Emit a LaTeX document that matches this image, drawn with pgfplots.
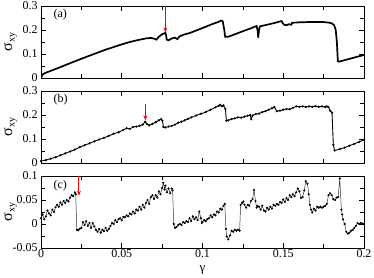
\documentclass[border=0pt]{standalone}
\usepackage{pgfplots}
\pgfplotsset{compat=1.18}
\usepackage{fontspec}
\setmainfont{Liberation Serif}
\usetikzlibrary{arrows.meta}

\pgfplotsset{
  panel/.style={
    scale only axis, width=323bp, height=72bp,
    xmin=0, xmax=0.2,
    xtick={0,0.05,0.1,0.15,0.2}, minor x tick num=1,
    tick align=inside,
    major tick length=5bp, minor tick length=4bp,
    minor y tick num=1,
    /pgf/number format/assume math mode=true,
    /pgf/number format/fixed, /pgf/number format/precision=2,
    tick label style={font=\fontsize{12}{12}\selectfont},
    xticklabel style={inner sep=1.5pt},
    every axis y label/.style={at={(axis description cs:-0.095,0.5)}, rotate=90, anchor=center},
    every axis x label/.style={at={(axis description cs:0.5,0)}, anchor=north, inner sep=0pt, yshift=-17bp},
    ylabel={\fontsize{16}{16}\selectfont σ\raisebox{-0.35ex}{\fontsize{10}{10}\selectfont xy}},
    axis line style={line width=0.8pt},
    every tick/.style={black, line width=0.6pt},
  },
}

\begin{document}
\begin{tikzpicture}
\begin{axis}[panel, at={(0,0)}, anchor=north west,
  ymin=0, ymax=0.3, ytick={0,0.1,0.2,0.3}, xticklabels={}]
\addplot[black, line width=1.7pt] coordinates {
(0,0.0) (0.001,0.015) (0.003,0.022) (0.01,0.04) (0.02,0.067) (0.03,0.093)
(0.04,0.118) (0.05,0.14) (0.055,0.15) (0.06,0.158) (0.065,0.165) (0.068,0.167)
(0.070,0.164) (0.0715,0.160) (0.073,0.172) (0.075,0.182) (0.077,0.188)
(0.0775,0.178) (0.0778,0.16) (0.079,0.157) (0.081,0.165) (0.083,0.168)
(0.0845,0.162) (0.0855,0.172) (0.088,0.18) (0.0923,0.188) (0.095,0.195)
(0.1,0.208) (0.105,0.222) (0.11,0.234) (0.1115,0.239) (0.1125,0.237)
(0.1135,0.2) (0.114,0.172) (0.116,0.172) (0.12,0.182) (0.125,0.195)
(0.13,0.207) (0.1335,0.217) (0.1342,0.195) (0.1345,0.168) (0.135,0.2)
(0.1355,0.215) (0.14,0.222) (0.145,0.23) (0.149,0.2375) (0.1495,0.23)
(0.1505,0.222) (0.152,0.22) (0.1535,0.224) (0.155,0.222) (0.1555,0.23)
(0.16,0.232) (0.165,0.233) (0.17,0.233) (0.175,0.233) (0.178,0.231)
(0.180,0.228) (0.1815,0.22) (0.1825,0.2) (0.1832,0.15) (0.1838,0.07)
(0.1845,0.068) (0.19,0.078) (0.195,0.087) (0.2,0.096)
};
\draw[red, line width=1pt, -{Stealth[length=5bp,width=4bp]}] (axis cs:0.077,0.3) -- (axis cs:0.077,0.19);
\node[anchor=west, font=\fontsize{12}{12}\selectfont] at (rel axis cs:0.028,0.88) {(a)};
\end{axis}

\begin{axis}[panel, at={(0,-85bp)}, anchor=north west,
  ymin=0, ymax=0.3, ytick={0,0.1,0.2,0.3}, xticklabels={}]
\addplot[black, line width=0.9pt, mark=*, mark size=0.6pt] coordinates {
(0,0.008) (0.003,0.012) (0.006,0.018) (0.009,0.024) (0.012,0.032) (0.015,0.040)
(0.018,0.048) (0.021,0.056) (0.024,0.066) (0.027,0.074) (0.030,0.082) (0.033,0.09)
(0.036,0.098) (0.039,0.105) (0.042,0.113) (0.045,0.122) (0.048,0.128) (0.051,0.138)
(0.053,0.145) (0.055,0.142) (0.057,0.15) (0.059,0.152) (0.061,0.155) (0.063,0.160)
(0.0645,0.172) (0.0655,0.163) (0.067,0.157) (0.069,0.163) (0.071,0.170) (0.073,0.178)
(0.0745,0.183) (0.0752,0.176) (0.0758,0.150) (0.077,0.148) (0.079,0.152) (0.081,0.155)
(0.083,0.16) (0.085,0.168) (0.087,0.172) (0.089,0.178) (0.091,0.184) (0.093,0.19)
(0.096,0.198) (0.099,0.205) (0.102,0.212) (0.105,0.222) (0.108,0.232) (0.110,0.238)
(0.111,0.242) (0.112,0.236) (0.113,0.24) (0.1142,0.225) (0.1148,0.176) (0.116,0.178)
(0.118,0.183) (0.12,0.186) (0.122,0.19) (0.124,0.189) (0.126,0.193) (0.128,0.197)
(0.1295,0.200) (0.1302,0.183) (0.131,0.198) (0.133,0.204) (0.135,0.206) (0.137,0.212)
(0.139,0.216) (0.141,0.222) (0.143,0.228) (0.1445,0.233) (0.146,0.216) (0.148,0.218)
(0.150,0.222) (0.152,0.225) (0.154,0.224) (0.156,0.230) (0.158,0.236) (0.160,0.234)
(0.162,0.236) (0.164,0.233) (0.166,0.236) (0.168,0.234) (0.170,0.237) (0.172,0.234)
(0.174,0.236) (0.176,0.233) (0.177,0.236) (0.178,0.233) (0.179,0.218) (0.1802,0.21)
(0.181,0.076) (0.1818,0.052) (0.185,0.058) (0.188,0.064) (0.191,0.072) (0.194,0.08)
(0.197,0.088) (0.2,0.097)
};
\draw[red, line width=1.2pt, -{Stealth[length=5bp,width=4bp]}] (axis cs:0.0646,0.245) -- (axis cs:0.0646,0.178);
\node[anchor=west, font=\fontsize{12}{12}\selectfont] at (rel axis cs:0.028,0.88) {(b)};
\end{axis}

\begin{axis}[panel, at={(0,-170bp)}, anchor=north west,
  ymin=-0.05, ymax=0.1, ytick={-0.05,0,0.05,0.1},
  xticklabels={0,0.05,0.1,0.15,0.2},
  xlabel={\fontsize{13}{13}\selectfont γ}]
\addplot[black!80, line width=0.5pt, mark=*, mark size=0.8pt, mark options={black}] coordinates {
(0.000,0.012) (0.001,0.020) (0.002,0.010) (0.003,0.016) (0.004,0.028) (0.005,0.022)
(0.006,0.018) (0.007,0.030) (0.008,0.025) (0.009,0.035) (0.010,0.040) (0.011,0.036)
(0.012,0.045) (0.013,0.040) (0.014,0.048) (0.015,0.044) (0.016,0.050) (0.017,0.047)
(0.018,0.055) (0.019,0.060) (0.020,0.058) (0.021,0.066) (0.0215,0.062) (0.0222,-0.012)
(0.023,-0.013) (0.024,-0.010) (0.025,-0.008) (0.026,0.004) (0.027,-0.002) (0.028,0.006)
(0.029,-0.004) (0.030,0.002) (0.031,-0.008) (0.032,0.002) (0.033,-0.005) (0.034,-0.012)
(0.035,-0.016) (0.036,-0.010) (0.037,-0.018) (0.038,-0.012) (0.039,-0.015) (0.040,-0.008)
(0.041,-0.014) (0.042,-0.010) (0.043,-0.004) (0.044,0.002) (0.045,0.000) (0.046,0.008)
(0.047,0.004) (0.048,0.010) (0.049,0.012) (0.050,0.008) (0.051,0.015) (0.052,0.014)
(0.053,0.018) (0.054,0.016) (0.055,0.022) (0.056,0.020) (0.057,0.026) (0.058,0.022)
(0.059,0.030) (0.060,0.028) (0.061,0.036) (0.062,0.030) (0.063,0.040) (0.064,0.034)
(0.065,0.044) (0.066,0.050) (0.067,0.042) (0.068,0.056) (0.069,0.060) (0.070,0.052)
(0.071,0.060) (0.072,0.055) (0.073,0.068) (0.074,0.062) (0.075,0.075) (0.0757,0.086)
(0.0765,0.072) (0.077,0.080) (0.078,0.066) (0.079,0.074) (0.080,0.064) (0.081,0.074)
(0.0815,0.070) (0.0822,0.000) (0.083,-0.008) (0.084,-0.006) (0.085,-0.002)
(0.086,0.000) (0.087,-0.002) (0.088,0.004) (0.089,0.002) (0.090,0.006) (0.091,0.004)
(0.092,0.012) (0.093,0.006) (0.094,0.016) (0.095,0.010) (0.096,0.014) (0.097,0.008)
(0.098,0.026) (0.099,0.012) (0.0995,0.002) (0.100,0.004) (0.101,0.008) (0.102,0.006)
(0.103,0.010) (0.104,0.012) (0.105,0.018) (0.106,0.014) (0.107,0.020) (0.108,0.018)
(0.109,0.026) (0.110,0.024) (0.111,0.032) (0.112,0.030) (0.113,0.038) (0.1138,0.042)
(0.1145,-0.010) (0.115,-0.026) (0.116,-0.032) (0.117,-0.024) (0.118,-0.014) (0.119,-0.016)
(0.120,-0.012) (0.121,-0.014) (0.122,-0.012) (0.123,-0.014) (0.1236,0.040) (0.1245,0.044)
(0.1253,0.047) (0.126,0.040) (0.127,0.034) (0.128,0.040) (0.129,0.038) (0.130,0.048)
(0.131,0.052) (0.1319,0.071) (0.1328,0.048) (0.1335,0.034) (0.134,0.038) (0.135,0.036)
(0.136,0.030) (0.137,0.038) (0.138,0.028) (0.139,0.026) (0.140,0.034) (0.141,0.030)
(0.142,0.036) (0.143,0.032) (0.144,0.040) (0.145,0.038) (0.146,0.042) (0.147,0.040)
(0.148,0.046) (0.149,0.044) (0.150,0.051) (0.151,0.046) (0.152,0.054) (0.153,0.050)
(0.154,0.060) (0.155,0.056) (0.156,0.062) (0.157,0.058) (0.158,0.066) (0.159,0.074)
(0.160,0.068) (0.161,0.054) (0.162,0.056) (0.163,0.070) (0.164,0.089) (0.165,0.084)
(0.1658,0.062) (0.1665,0.040) (0.1672,0.030) (0.168,0.024) (0.169,0.032) (0.170,0.028)
(0.171,0.036) (0.172,0.034) (0.173,0.036) (0.174,0.034) (0.175,0.036) (0.176,0.038)
(0.177,0.042) (0.178,0.060) (0.179,0.064) (0.180,0.060) (0.181,0.052) (0.182,0.050)
(0.183,0.055) (0.184,0.056) (0.185,0.095) (0.186,0.030) (0.1865,0.020) (0.187,0.010)
(0.188,0.000) (0.189,-0.016) (0.190,-0.020) (0.191,-0.018) (0.192,-0.014) (0.193,-0.012)
(0.194,-0.008) (0.195,-0.004) (0.196,0.002) (0.197,0.000) (0.198,0.002) (0.199,0.001)
(0.200,0.000)
};
\draw[red, line width=1pt, -{Stealth[length=5bp,width=4bp]}] (axis cs:0.0235,0.1) -- (axis cs:0.0235,0.059);
\node[anchor=west, font=\fontsize{12}{12}\selectfont] at (rel axis cs:0.028,0.86) {(c)};
\end{axis}
\pgfresetboundingbox
\path[use as bounding box] (-41bp,-272bp) rectangle (333bp,6bp);
\end{tikzpicture}
\end{document}
